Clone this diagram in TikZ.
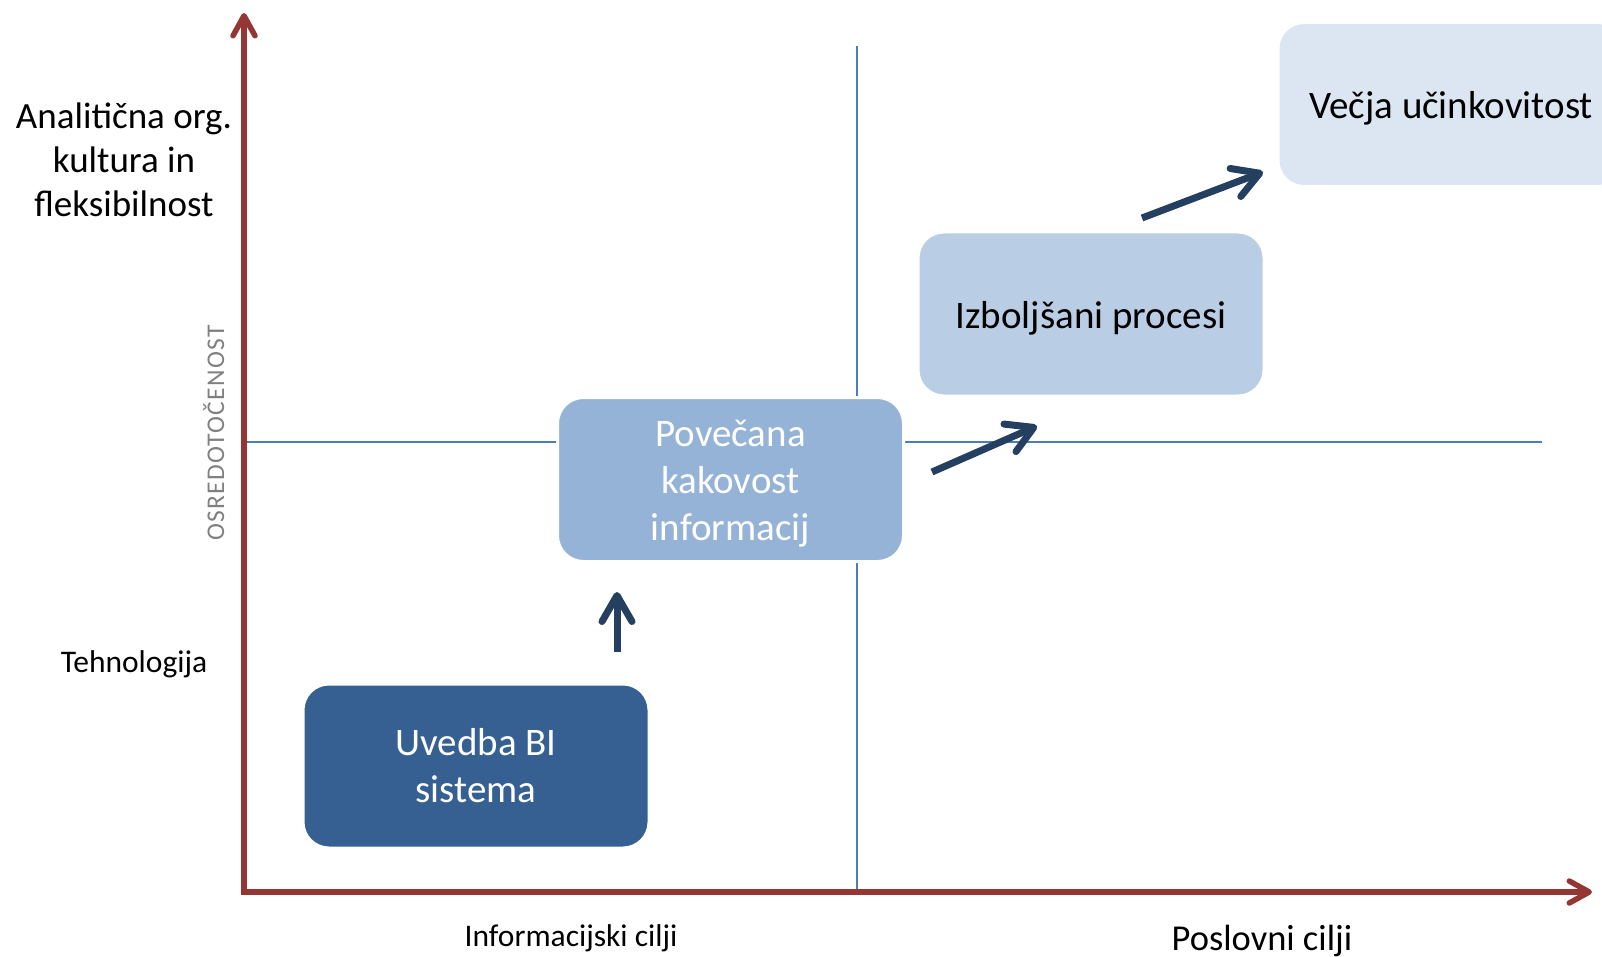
\documentclass[tikz,border=0pt]{standalone}
\usepackage{fontspec}
\setmainfont{Carlito}
\newfontfamily\spacedfont[LetterSpace=5]{Carlito}
\usetikzlibrary{arrows.meta}
\definecolor{axred}{HTML}{943634}
\definecolor{gridblue}{HTML}{4A7EBB}
\definecolor{arrowblue}{HTML}{243F60}
\definecolor{boxa}{HTML}{366092}
\definecolor{boxb}{HTML}{95B3D7}
\definecolor{boxc}{HTML}{B9CDE5}
\definecolor{boxd}{HTML}{DCE6F2}
\tikzset{
  axis/.style={draw=axred, line width=5.5pt, -{Straight Barb[length=20pt,width=22pt,round]}},
  gridline/.style={draw=gridblue, line width=1.6pt},
  flow/.style={draw=arrowblue, line width=7pt, -{Straight Barb[length=26pt,width=30pt,round]}},
  stage/.style={rounded corners=26pt, draw=white, line width=3pt, minimum width=346pt, minimum height=164pt,
    align=center, inner sep=0pt, font=\fontsize{39}{47}\selectfont},
  biglabel/.style={font=\fontsize{37}{44}\selectfont, align=center},
  smalllabel/.style={font=\fontsize{31.5}{37}\selectfont},
}
\begin{document}
\begin{tikzpicture}[x=1pt,y=-1pt]
\useasboundingbox (0,0) rectangle (1602,957);
\clip (0,0) rectangle (1602,957);
% grid lines
\coordinate (hL) at (244,442);
\coordinate (hR) at (1542,442);
\coordinate (vT) at (857,46);
\coordinate (vB) at (857,892);
\draw[gridline] (hL) -- (hR);
\draw[gridline] (vT) -- (vB);
% axes
\coordinate (origin) at (244,892);
\coordinate (ytip) at (244,13);
\coordinate (xtip) at (1592,892);
\draw[axis] (244,895) -- (ytip);
\draw[axis] (241,892) -- (xtip);
% stage boxes
\node[stage, fill=boxa, text=white] (uvedba) at (476,766) {Uvedba BI\\sistema};
\node[stage, fill=boxb, text=white] (povecana) at (730.5,479.5) {};
\node[font=\fontsize{39}{47}\selectfont, align=center, text=white] (povtext) at (730.5,484) {Povečana\\kakovost\\informacij};
\node[stage, fill=boxc, text=black] (izboljsani) at (1091,314) {};
\node[font=\fontsize{39}{47}\selectfont, text=black] (izbtext) at (1091,319) {\strut Izboljšani procesi};
\node[stage, fill=boxd, text=black] (vecja) at (1451,104.5) {};
\node[font=\fontsize{39}{47}\selectfont, text=black] (vectext) at (1451,109.5) {\strut Večja učinkovitost};
% flow arrows
\coordinate (a1s) at (617,652);
\coordinate (a1e) at (617,592);
\coordinate (a2s) at (932,472);
\coordinate (a2e) at (1037,426);
\coordinate (a3s) at (1142,218);
\coordinate (a3e) at (1263,172);
\draw[flow] (a1s) -- (a1e);
\draw[flow] (a2s) -- (a2e);
\draw[flow] (a3s) -- (a3e);
% labels
\node[biglabel] (kultura) at (124,160) {Analitična org.\\kultura in\\fleksibilnost};
\node[smalllabel, anchor=base] (tehno) at (134,672) {Tehnologija};
\node[smalllabel, anchor=base] (infocilji) at (571,946) {Informacijski cilji};
\node[font=\fontsize{36.5}{44}\selectfont, anchor=base] (poslcilji) at (1262,950) {Poslovni cilji};
\node[font=\spacedfont\fontsize{25.5}{30}\selectfont, text=black!50, rotate=90, anchor=base] (osred) at (224,433) {OSREDOTOČENOST};
\end{tikzpicture}
\end{document}
